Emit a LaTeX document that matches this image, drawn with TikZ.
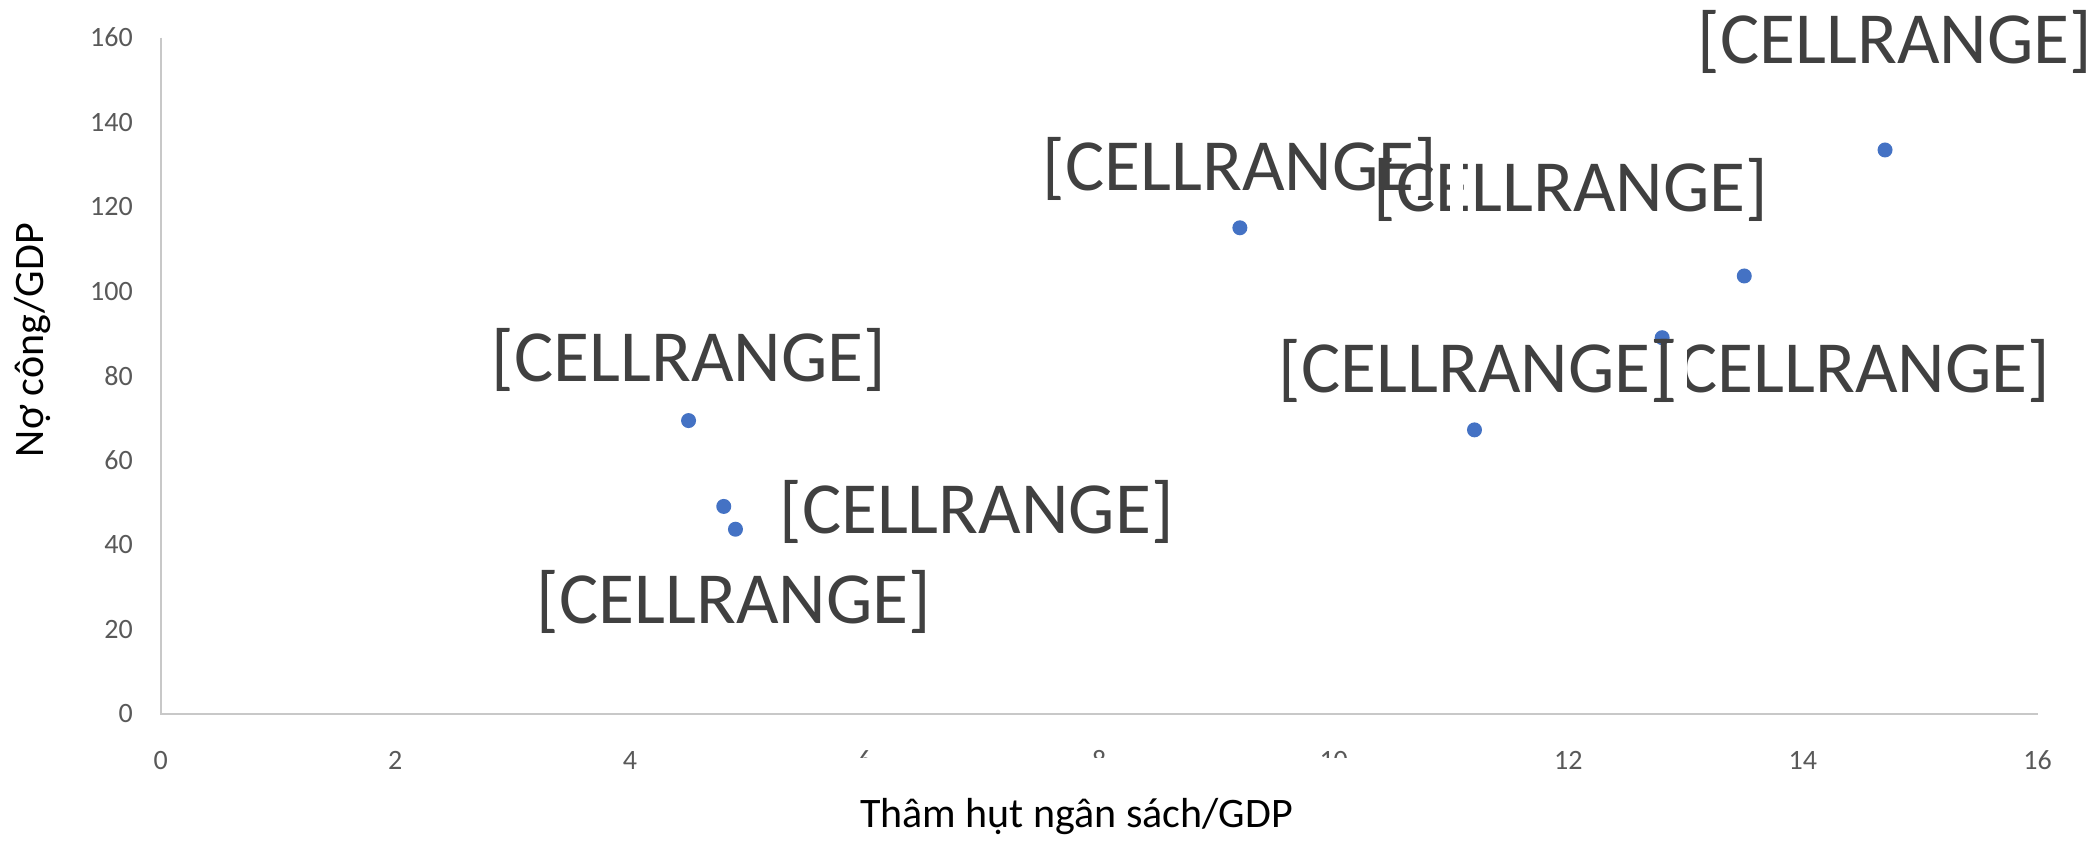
\documentclass[tikz,border=0pt]{standalone}
\usepackage{fontspec}
\setmainfont{Carlito}
\definecolor{lblgray}{HTML}{404040}
\definecolor{tickgray}{HTML}{595959}
\definecolor{axisgray}{HTML}{C8C8C8}
\definecolor{ptblue}{HTML}{4472C4}
\tikzset{
  datapt/.style={circle, fill=ptblue, inner sep=0pt, minimum size=15bp},
  celllbl/.style={anchor=base, inner sep=0pt, text=lblgray, font=\fontsize{73.5bp}{80bp}\selectfont},
  ytick/.style={anchor=east, inner sep=0pt, text=tickgray, font=\fontsize{28bp}{32bp}\selectfont},
  xtick/.style={anchor=base, inner sep=0pt, text=tickgray, font=\fontsize{28bp}{32bp}\selectfont},
  axtitle/.style={anchor=base, inner sep=0pt, text=black, font=\fontsize{42bp}{48bp}\selectfont},
  axisline/.style={draw=axisgray, line width=2bp},
  mask/.style={fill=white, draw=none}
}
\begin{document}
\begin{tikzpicture}[x=1bp, y=-1bp]
\useasboundingbox[fill=white] (0,0) rectangle (2100,844);
\begin{scope}[shift={(160.7,714)}, x=117.3bp, y=4.228bp]
  \coordinate (o) at (0,0);
  \coordinate (ytop) at (0,160);
  \coordinate (xend) at (16,0);
  \draw[axisline] (ytop) -- (o) -- (xend);
  \foreach \v in {0,20,...,160} {
    \node[ytick] (yt\v) at ([xshift=-27.7bp]0,\v) {\v};
  }
  \foreach \v in {0,2,...,16} {
    \node[xtick] (xt\v) at ([yshift=-55.3bp]\v,0) {\v};
  }
  \node[datapt] (p1) at (4.5,69.4) {};
  \node[datapt] (p2) at (4.8,49.1) {};
  \node[datapt] (p3) at (4.9,43.7) {};
  \node[datapt] (p4) at (9.2,115) {};
  \node[datapt] (p5) at (11.2,67.2) {};
  \node[datapt] (p6) at (12.8,89) {};
  \node[datapt] (p7) at (13.5,103.6) {};
  \node[datapt] (p8) at (14.7,133.4) {};
\end{scope}
% partly hidden tick labels 6, 8, 10
\fill[mask] (820,758) rectangle (1380,780);
% data labels
\node[celllbl] (lA) at (689,381.7) {[CELLRANGE]};
\node[celllbl] (lB) at (976.5,533) {[CELLRANGE]};
\node[celllbl] (lC) at (734,623) {[CELLRANGE]};
\node[celllbl] (lE) at (1571,211.7) {[CELLRANGE]};
\fill[mask] (1450,158) rectangle (1463,216);
\node[celllbl] (lD) at (1240,190) {[CELLRANGE]};
\node[celllbl] (lG) at (1853,392) {[CELLRANGE]};
\fill[mask] (1674,340) rectangle (1687,398);
\node[celllbl] (lF) at (1476,392) {[CELLRANGE]};
\node[celllbl] (lH) at (1895,63) {[CELLRANGE]};
% axis titles
\node[axtitle] (xtitle) at (1076.5,827) {Thâm hụt ngân sách/GDP};
\node[axtitle, rotate=90] (ytitle) at (43.3,340) {Nợ công/GDP};
\end{tikzpicture}
\end{document}
